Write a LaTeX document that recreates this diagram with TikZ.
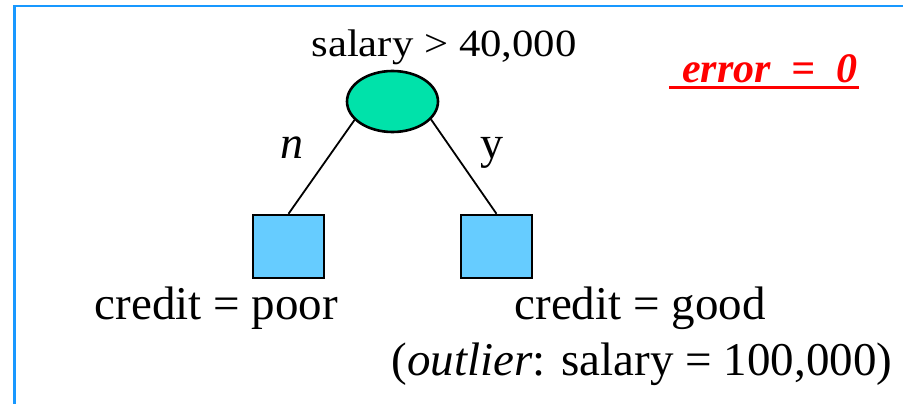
\documentclass[tikz,border=0pt]{standalone}
\usepackage{fontspec}
\setmainfont{Liberation Serif}
\usetikzlibrary{shapes.geometric,calc}
\definecolor{framebl}{RGB}{24,152,255}
\definecolor{rootfill}{RGB}{0,226,170}
\definecolor{leaffill}{RGB}{102,204,255}
\definecolor{errred}{RGB}{255,0,0}
\tikzset{
  rootnode/.style={ellipse, draw=black, line width=2.6pt, fill=rootfill,
    minimum width=91pt, minimum height=61pt, inner sep=0pt},
  leafnode/.style={rectangle, draw=black, line width=2.4pt, fill=leaffill,
    minimum width=71pt, minimum height=63pt, inner sep=0pt},
  edge/.style={line width=1.8pt, draw=black},
  lbl/.style={inner sep=0pt, anchor=base},
}
\begin{document}
\begin{tikzpicture}[x=1pt, y=-1pt]
  \useasboundingbox (0,0) rectangle (903,404);
  \begin{scope}
    \clip (0,0) rectangle (903,404);
    \draw[framebl, line width=2.6pt] (14.5,6) rectangle (940,440);
  \end{scope}

  % decision node and leaves
  \node[rootnode] (root) at (392.5,101.5) {};
  \node[leafnode] (poor) at (288.5,246.5) {};
  \node[leafnode] (good) at (496.5,246.5) {};

  \draw[edge] (root.206) -- (poor.north);
  \draw[edge] (root.-25) -- (good.north);

  % labels
  \node[lbl, font=\fontsize{38.5}{44}\selectfont, xscale=1.11] (cond) at (444,57) {salary > 40,000};
  \node[lbl, font=\fontsize{46}{50}\selectfont\itshape] (nlab) at (292,158) {n};
  \node[lbl, font=\fontsize{46}{50}\selectfont] (ylab) at (492,158) {y};
  \node[lbl, font=\fontsize{47}{54}\selectfont] (poortxt) at (216.5,319) {credit = poor};
  \node[lbl, font=\fontsize{47}{54}\selectfont] (goodtxt) at (640,319) {credit = good};
  \node[lbl, font=\fontsize{47}{54}\selectfont] (outl) at (642,375) {(\textit{outlier}: salary = 100,000)};
  \node[lbl, anchor=base west, font=\fontsize{42}{48}\selectfont\bfseries\itshape, text=errred] (err) at (682,82.7)
    {error\ \ =\ \ 0};
  \draw[errred, line width=2.6pt] ($(err.base west)+(-13,5)$) -- ($(err.base east)+(1,5)$);
\end{tikzpicture}
\end{document}
